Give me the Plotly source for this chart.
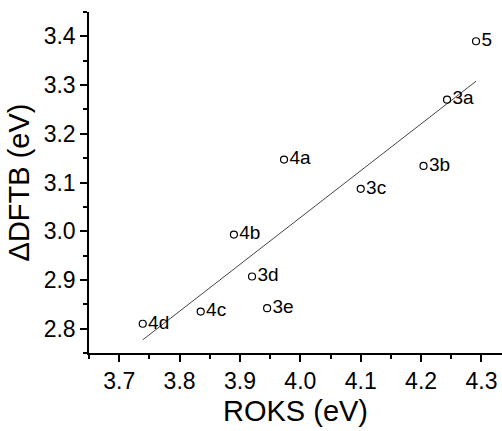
import numpy as np
import plotly.graph_objects as go

labels = ["5", "3a", "4a", "3b", "3c", "4b", "3d", "3e", "4c", "4d"]
roks = [4.291, 4.243, 3.973, 4.204, 4.100, 3.890, 3.920, 3.945, 3.835, 3.739]
dftb = [3.390, 3.270, 3.147, 3.134, 3.087, 2.993, 2.907, 2.842, 2.835, 2.810]

x_ticks = [3.7, 3.8, 3.9, 4.0, 4.1, 4.2, 4.3]
y_ticks = [2.8, 2.9, 3.0, 3.1, 3.2, 3.3, 3.4]

slope, intercept = np.polyfit(roks, dftb, 1)
fit_x = [min(roks), max(roks)]
fit_y = [slope * v + intercept for v in fit_x]

FONT = "Arial, Liberation Sans, sans-serif"

fig = go.Figure()
fig.add_trace(go.Scatter(
    x=fit_x, y=fit_y, mode="lines",
    line=dict(color="#444444", width=1),
    hoverinfo="skip", showlegend=False,
))
fig.add_trace(go.Scatter(
    x=roks, y=dftb, mode="markers+text",
    text=labels, textposition="middle right",
    textfont=dict(family=FONT, size=19, color="black"),
    marker=dict(symbol="circle-open", size=7, color="black", line=dict(width=1.2)),
    showlegend=False, cliponaxis=False,
))

axis_common = dict(
    showgrid=False, zeroline=False, showline=True,
    linecolor="black", linewidth=1.5,
    ticks="outside", ticklen=7, tickwidth=1.5, tickcolor="black",
    tickfont=dict(family=FONT, size=23, color="black"),
    mirror=False, automargin=False,
)

fig.update_layout(
    width=502, height=431,
    margin=dict(l=89, r=0, t=12, b=78),
    paper_bgcolor="white", plot_bgcolor="white",
    xaxis=dict(
        range=[3.65, 4.334], tickvals=x_ticks,
        ticktext=[f"{v:.1f}" for v in x_ticks],
        title=dict(text="ROKS (eV)", font=dict(family=FONT, size=29, color="black"), standoff=7),
        minor=dict(dtick=0.05, tick0=3.65, ticks="outside", ticklen=4, tickwidth=1.5, tickcolor="black"),
        **axis_common,
    ),
    yaxis=dict(
        range=[2.75, 3.45], tickvals=y_ticks,
        ticktext=[f"{v:.1f}" for v in y_ticks],
        title=dict(text="ΔDFTB (eV)", font=dict(family=FONT, size=29, color="black"), standoff=6),
        minor=dict(dtick=0.05, tick0=2.75, ticks="outside", ticklen=4, tickwidth=1.5, tickcolor="black"),
        **axis_common,
    ),
)

fig.write_html(
    "out.html",
    config={"displayModeBar": False},
    post_script="document.body.style.margin='0';document.body.style.overflow='hidden';",
)
